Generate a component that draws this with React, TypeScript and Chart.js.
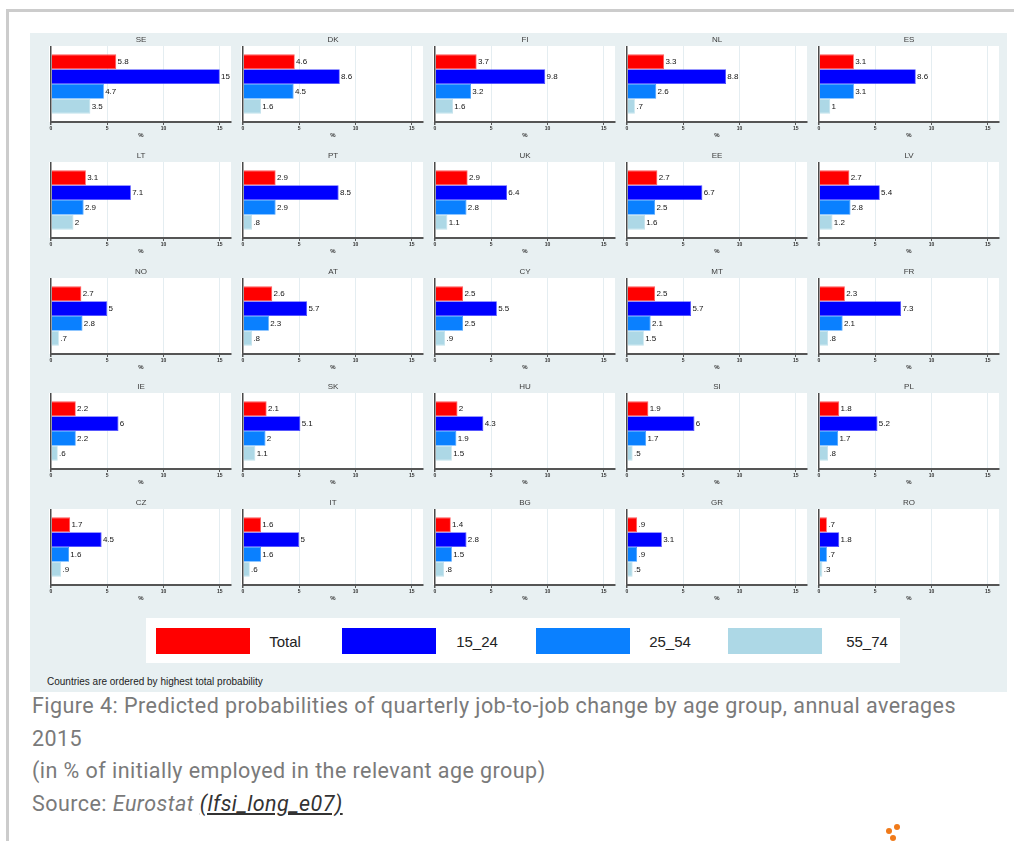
import React, { useEffect, useRef } from 'react';
import { Chart, registerables } from 'chart.js';

Chart.register(...registerables);

// ---- data ----
const countries = ['SE', 'DK', 'FI', 'NL', 'ES', 'LT', 'PT', 'UK', 'EE', 'LV', 'NO', 'AT', 'CY', 'MT', 'FR', 'IE', 'SK', 'HU', 'SI', 'PL', 'CZ', 'IT', 'BG', 'GR', 'RO'];
const total = [5.8, 4.6, 3.7, 3.3, 3.1, 3.1, 2.9, 2.9, 2.7, 2.7, 2.7, 2.6, 2.5, 2.5, 2.3, 2.2, 2.1, 2, 1.9, 1.8, 1.7, 1.6, 1.4, 0.9, 0.7];
const age15_24 = [15, 8.6, 9.8, 8.8, 8.6, 7.1, 8.5, 6.4, 6.7, 5.4, 5, 5.7, 5.5, 5.7, 7.3, 6, 5.1, 4.3, 6, 5.2, 4.5, 5, 2.8, 3.1, 1.8];
const age25_54 = [4.7, 4.5, 3.2, 2.6, 3.1, 2.9, 2.9, 2.8, 2.5, 2.8, 2.8, 2.3, 2.5, 2.1, 2.1, 2.2, 2, 1.9, 1.7, 1.7, 1.6, 1.6, 1.5, 0.9, 0.7];
const age55_74 = [3.5, 1.6, 1.6, 0.7, 1, 2, 0.8, 1.1, 1.6, 1.2, 0.7, 0.8, 0.9, 1.5, 0.8, 0.6, 1.1, 1.5, 0.5, 0.8, 0.9, 0.6, 0.8, 0.5, 0.3];
const seriesLabels = ['Total', '15_24', '25_54', '55_74'];
const xTicks = [0, 5, 10, 15];
const xMax = 16;

// ---- styles ----
const seriesData = [total, age15_24, age25_54, age55_74];
const seriesColors = ['#ff0000', '#0000ff', '#0a80ff', '#add8e6'];
const seriesBorders = ['#ff5a5a', '#4a4aff', '#3a9aff', '#c2e2ec'];
const STATA_FONT = '"Liberation Sans", Arial, sans-serif';

const fmt = (v: number) => {
  const s = String(v);
  return s.startsWith('0.') ? s.slice(1) : s;
};

const whiteArea = {
  id: 'whiteArea',
  beforeDraw(chart: any) {
    const { ctx, chartArea } = chart;
    ctx.save();
    ctx.fillStyle = '#ffffff';
    ctx.fillRect(chartArea.left - 2, chartArea.top, chartArea.right - chartArea.left + 2, chartArea.bottom - chartArea.top);
    ctx.restore();
  },
};

const valueLabels = {
  id: 'valueLabels',
  afterDatasetsDraw(chart: any) {
    const { ctx } = chart;
    ctx.save();
    ctx.font = `8px ${STATA_FONT}`;
    ctx.fillStyle = '#141414';
    ctx.textBaseline = 'middle';
    ctx.textAlign = 'left';
    chart.data.datasets.forEach((ds: any, di: number) => {
      const meta = chart.getDatasetMeta(di);
      meta.data.forEach((bar: any, i: number) => {
        ctx.fillText(fmt(ds.data[i]), bar.x + 1.3, bar.y + 0.5);
      });
    });
    ctx.restore();
  },
};

const PANEL_W = 192;
const PAD_L = 6;
const TITLE_H = 12;
const AREA_H = 76;
const AXIS_H = 17;
const PANEL_H = TITLE_H + AREA_H + AXIS_H;

function Panel({ index, left, top }: { index: number; left: number; top: number }) {
  const ref = useRef<HTMLCanvasElement>(null);
  useEffect(() => {
    if (!ref.current) return;
    const chart = new Chart(ref.current, {
      type: 'bar',
      data: {
        labels: [countries[index]],
        datasets: seriesLabels.map((label, k) => ({
          label,
          data: [seriesData[k][index]],
          backgroundColor: seriesColors[k],
          borderColor: seriesBorders[k],
          borderWidth: 0.8,
          barPercentage: 1,
          categoryPercentage: 0.78,
        })),
      },
      options: {
        indexAxis: 'y',
        responsive: false,
        animation: false,
        events: [],
        layout: { padding: { top: 1.2, left: PAD_L, right: PAD_L, bottom: 0 } },
        plugins: {
          legend: { display: false },
          tooltip: { enabled: false },
          title: {
            display: true,
            text: countries[index],
            color: '#3c3c3c',
            font: { family: STATA_FONT, size: 8, weight: 'normal' },
            padding: { top: 0, bottom: 1.2 },
          },
        },
        scales: {
          x: {
            type: 'linear',
            min: 0,
            max: xMax,
            afterBuildTicks: (s: any) => {
              s.ticks = xTicks.map((v) => ({ value: v }));
            },
            afterFit: (s: any) => {
              s.height = AXIS_H;
            },
            ticks: {
              stepSize: 5,
              maxRotation: 0,
              autoSkip: false,
              padding: 1,
              color: '#333333',
              font: { family: STATA_FONT, size: 5, weight: 'bold' },
            },
            grid: {
              color: (c: any) => (c.tick && c.tick.value === 0 ? '#4a4a4a' : '#e4edf1'),
              lineWidth: (c: any) => (c.tick && c.tick.value === 0 ? 1.5 : 1),
              tickColor: '#555555',
              tickLength: 3,
              drawTicks: true,
            },
            border: { display: true, color: '#555555', width: 2 },
            title: {
              display: true,
              text: '%',
              color: '#333333',
              font: { family: STATA_FONT, size: 6, weight: 'bold' },
              padding: 0,
            },
          },
          y: { display: false },
        },
      } as any,
      plugins: [whiteArea, valueLabels],
    });
    return () => chart.destroy();
  }, [index]);
  return (
    <canvas
      ref={ref}
      width={PANEL_W}
      height={PANEL_H}
      style={{ position: 'absolute', left, top, width: PANEL_W, height: PANEL_H }}
    />
  );
}

export default function App() {
  const panels = countries.map((_, i) => {
    const r = Math.floor(i / 5);
    const c = i % 5;
    const areaLeft = 50.5 + c * 192.1;
    const areaTop = 46 + r * 115.8;
    return <Panel key={i} index={i} left={areaLeft - PAD_L} top={areaTop - TITLE_H} />;
  });

  const legendItems = [
    { sw: 156, tx: 285 },
    { sw: 342, tx: 477 },
    { sw: 536, tx: 670 },
    { sw: 728, tx: 867 },
  ];

  return (
    <div style={{ position: 'absolute', left: 0, top: 0, width: 1014, height: 841, background: '#ffffff', overflow: 'hidden' }}>
      {/* page frame */}
      <div style={{ position: 'absolute', left: 6, top: 9, width: 1008, height: 3, background: '#cccccc' }} />
      <div style={{ position: 'absolute', left: 6, top: 9, width: 3, height: 832, background: '#cccccc' }} />
      {/* chart image background */}
      <div style={{ position: 'absolute', left: 30, top: 33, width: 977, height: 659, background: '#e8f0f2' }} />
      {panels}
      {/* legend */}
      <div style={{ position: 'absolute', left: 146, top: 618, width: 754, height: 45, background: '#ffffff' }} />
      {legendItems.map((it, k) => (
        <React.Fragment key={k}>
          <div style={{ position: 'absolute', left: it.sw, top: 628, width: 94, height: 26, background: seriesColors[k] }} />
          <div
            style={{
              position: 'absolute',
              left: it.tx - 40,
              width: 80,
              top: 632,
              height: 20,
              lineHeight: '20px',
              textAlign: 'center',
              fontFamily: STATA_FONT,
              fontSize: 15,
              color: '#222222',
            }}
          >
            {seriesLabels[k]}
          </div>
        </React.Fragment>
      ))}
      <div
        style={{
          position: 'absolute',
          left: 47,
          top: 676,
          lineHeight: '12px',
          fontFamily: STATA_FONT,
          fontSize: 10,
          color: '#222222',
          whiteSpace: 'nowrap',
        }}
      >
        Countries are ordered by highest total probability
      </div>
      {/* caption */}
      <div
        style={{
          position: 'absolute',
          left: 32,
          top: 690,
          fontFamily: 'Roboto, sans-serif',
          fontSize: 21.5,
          letterSpacing: 0.45,
          lineHeight: '32.5px',
          color: '#7a7a7a',
          whiteSpace: 'nowrap',
        }}
      >
        <div>Figure 4: Predicted probabilities of quarterly job-to-job change by age group, annual averages</div>
        <div>2015</div>
        <div>(in % of initially employed in the relevant age group)</div>
        <div>
          Source: <i>Eurostat</i>{' '}
          <span style={{ color: '#333333', textDecoration: 'underline', fontStyle: 'italic' }}>(lfsi_long_e07)</span>
        </div>
      </div>
      {/* logo dots */}
      <div style={{ position: 'absolute', left: 894, top: 824, width: 6, height: 6, borderRadius: 3, background: '#f07a1a' }} />
      <div style={{ position: 'absolute', left: 886, top: 828, width: 6, height: 6, borderRadius: 3, background: '#f07a1a' }} />
      <div style={{ position: 'absolute', left: 890, top: 835, width: 6, height: 6, borderRadius: 3, background: '#f07a1a' }} />
    </div>
  );
}
